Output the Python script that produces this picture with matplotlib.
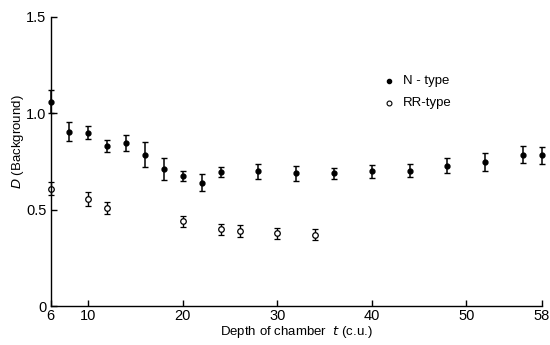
import matplotlib
matplotlib.use("Agg")
import matplotlib.pyplot as plt

# N-type (filled circles)
n_depth = [6, 8, 10, 12, 14, 16, 18, 20, 22, 24, 28, 32, 36, 40, 44, 48, 52, 56, 58]
n_d = [1.06, 0.905, 0.90, 0.83, 0.845, 0.785, 0.71, 0.675, 0.64, 0.695, 0.70,
       0.688, 0.688, 0.70, 0.703, 0.729, 0.748, 0.786, 0.782]
n_err = [0.06, 0.05, 0.034, 0.03, 0.043, 0.065, 0.058, 0.028, 0.045, 0.028, 0.039,
         0.038, 0.028, 0.034, 0.034, 0.038, 0.048, 0.045, 0.045]

# RR-type (open circles)
rr_depth = [6, 10, 12, 20, 24, 26, 30, 34]
rr_d = [0.608, 0.554, 0.509, 0.44, 0.397, 0.39, 0.377, 0.371]
rr_err = [0.033, 0.035, 0.032, 0.028, 0.028, 0.031, 0.028, 0.026]

x_ticks = [6, 10, 20, 30, 40, 50, 58]
y_ticks = [0, 0.5, 1.0, 1.5]
y_tick_labels = ["0", "0.5", "1.0", "1.5"]

plt.rcParams["font.family"] = ["Liberation Sans", "DejaVu Sans"]

fig = plt.figure(figsize=(5.5, 3.45), dpi=100)
ax = fig.add_axes([0.092, 0.113, 0.893, 0.838])

ax.errorbar(n_depth, n_d, yerr=n_err, fmt="o", color="black", markersize=3.5,
            capsize=2.5, elinewidth=1.1, capthick=1.0, clip_on=False)
ax.errorbar(rr_depth, rr_d, yerr=rr_err, fmt="o", color="black", markersize=4,
            mfc="white", mec="black", mew=0.9, capsize=2.5, elinewidth=1.0,
            capthick=1.0, clip_on=False)

ax.set_xlim(6, 58)
ax.set_ylim(0, 1.5)
ax.spines["top"].set_visible(False)
ax.spines["right"].set_visible(False)
for s in ("left", "bottom"):
    ax.spines[s].set_linewidth(1.0)

ax.set_xticks(x_ticks)
ax.set_xticklabels([str(v) for v in x_ticks])
ax.set_yticks(y_ticks)
ax.set_yticklabels(y_tick_labels)
ax.tick_params(axis="both", direction="in", length=4, width=1.0, labelsize=10.5, pad=3)
ax.tick_params(axis="x", pad=2)

ax.set_xlabel("Depth of chamber  $t$ (c.u.)", fontsize=9.5, labelpad=1)
ax.set_ylabel("$D$ (Background)", fontsize=9.5)
ax.yaxis.set_label_coords(-0.05, 0.57)

# legend drawn as text with markers
ax.plot([41.8], [1.166], "o", color="black", markersize=3, clip_on=False)
ax.plot([41.8], [1.052], "o", mfc="white", mec="black", mew=0.8, markersize=3.5,
        clip_on=False)
ax.text(43.3, 1.166, "N - type", fontsize=9.5, va="center", ha="left")
ax.text(43.3, 1.052, "RR-type", fontsize=9.5, va="center", ha="left")

fig.savefig("out.png", dpi=100)
